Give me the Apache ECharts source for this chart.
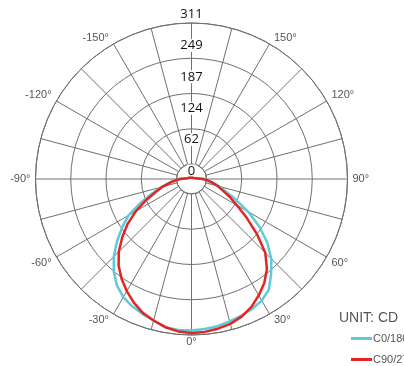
<!DOCTYPE html>
<html>
<head>
<meta charset="utf-8">
<script src="https://cdn.jsdelivr.net/npm/echarts@6/dist/echarts.min.js"></script>
<style>
  html, body { margin: 0; padding: 0; background: #fff; }
  #chart { width: 404px; height: 366px; }
</style>
</head>
<body>
<div id="chart"></div>
<script>
// Luminous intensity distribution, candela, by gamma angle (0° = straight down)
const angles = [-180, -150, -120, -100, -95, -90, -85, -80, -75, -70, -65, -60, -55, -50, -45, -40, -35, -30, -25, -20, -15, -10, -5,
  0, 5, 10, 15, 20, 25, 30, 35, 40, 45, 50, 55, 60, 65, 70, 75, 80, 85, 90, 95, 100, 120, 150, 180];

const c0Values = [3, 3, 4, 9, 13, 24, 34, 46, 62, 82, 112, 145, 169, 194, 219, 241, 259, 272, 280, 286, 292, 300, 302,
  302, 300, 298, 294, 290, 286, 280, 269, 247, 225, 197, 165, 130, 98, 72, 57, 44, 33, 23, 13, 9, 4, 3, 3];

const c90Values = [3, 3, 4, 9, 13, 23, 32, 44, 60, 76, 100, 128, 155, 180, 205, 226, 243, 258, 272, 284, 292, 300, 305,
  307, 306, 303, 299, 292, 282, 268, 253, 234, 208, 170, 134, 104, 84, 66, 54, 42, 32, 23, 13, 9, 4, 3, 3];

const seriesNames = ['C0/180', 'C90/270'];
const ringLabels = ['0', '62', '124', '187', '249', '311'];
const intensityMax = 311;
const unitText = 'UNIT: CD';

const CENTER = [191.5, 179];
const OUTER = 156;
const GRID = '#707070';

function hiddenAngleAxis(polarIndex) {
  return {
    polarIndex, type: 'value', min: -180, max: 180, interval: 15,
    startAngle: 90, clockwise: false, show: false
  };
}

// one legend block per curve so both rows stay in the corner
function legendRow(name, top) {
  return {
    orient: 'vertical',
    left: 346, top,
    itemWidth: 21, itemHeight: 3,
    icon: 'rect',
    textStyle: { color: '#555', fontSize: 11, fontFamily: 'Liberation Sans', padding: [0, 0, 0, -4] },
    data: [name]
  };
}

const chart = echarts.init(document.getElementById('chart'), null, { renderer: 'canvas' });

chart.setOption({
  animation: false,
  backgroundColor: '#fff',
  title: {
    text: unitText,
    left: 339, top: 311, padding: 0,
    textStyle: { fontSize: 14, fontWeight: 'normal', color: '#555', fontFamily: 'Liberation Sans' }
  },
  legend: [legendRow(seriesNames[0], 328), legendRow(seriesNames[1], 349)],
  polar: [
    { center: CENTER, radius: [15, OUTER] },   // grid rings and spokes
    { center: CENTER, radius: [0, OUTER] },    // intensity curves
    { center: CENTER, radius: [8, 165] }       // ring value labels
  ],
  angleAxis: [
    {
      polarIndex: 0, type: 'value', min: -180, max: 180, interval: 15,
      startAngle: 90, clockwise: false,
      axisLine: { show: true, lineStyle: { color: GRID, width: 1 } },
      axisTick: { show: false },
      splitLine: { show: true, lineStyle: { color: GRID, width: 1 } },
      axisLabel: {
        show: true, margin: 1, padding: [0, 4],
        color: '#555', fontSize: 11, fontFamily: 'Liberation Sans',
        formatter: v => (Math.round(v) % 30 === 0 && Math.abs(v) < 180) ? Math.round(v) + '°' : ''
      }
    },
    hiddenAngleAxis(1),
    hiddenAngleAxis(2)
  ],
  radiusAxis: [
    {
      polarIndex: 0, type: 'value', min: 0, max: 4, interval: 1,
      axisLine: { show: false }, axisTick: { show: false }, axisLabel: { show: false },
      splitLine: { show: true, lineStyle: { color: GRID, width: 1 } }
    },
    { polarIndex: 1, type: 'value', min: 0, max: intensityMax, show: false },
    {
      polarIndex: 2, type: 'value', min: 0, max: ringLabels.length - 1, interval: 1, z: 1,
      axisLine: { show: false }, axisTick: { show: false }, splitLine: { show: false },
      axisLabel: {
        show: true, margin: 0, align: 'center', verticalAlign: 'middle',
        color: '#111', fontSize: 13, fontFamily: 'Open Sans',
        backgroundColor: '#fff', padding: [0, 1],
        formatter: v => ringLabels[Math.round(v)]
      }
    }
  ],
  series: [
    {
      name: seriesNames[0], type: 'line', coordinateSystem: 'polar', polarIndex: 1,
      data: angles.map((a, i) => [c0Values[i], a]),
      symbol: 'none', z: 3,
      lineStyle: { color: '#5ccbdb', width: 2.5 },
      itemStyle: { color: '#5ccbdb' }
    },
    {
      name: seriesNames[1], type: 'line', coordinateSystem: 'polar', polarIndex: 1,
      data: angles.map((a, i) => [c90Values[i], a]),
      symbol: 'none', z: 4,
      lineStyle: { color: '#e52421', width: 2.5 },
      itemStyle: { color: '#e52421' }
    }
  ]
});
</script>
</body>
</html>
